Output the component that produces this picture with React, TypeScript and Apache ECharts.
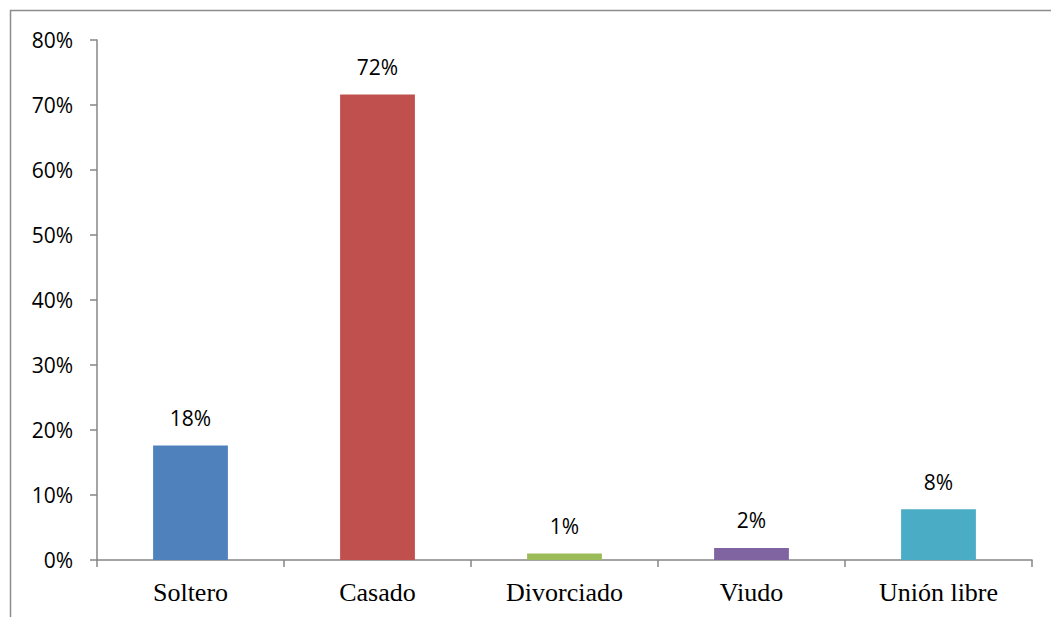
import React, { useEffect, useRef } from "react";
import * as echarts from "echarts";

const categories = ["Soltero", "Casado", "Divorciado", "Viudo", "Unión libre"];
const values = [17.6, 71.6, 1.0, 1.85, 7.8];
const colors = ["#4F81BD", "#C0504D", "#9BBB59", "#8064A2", "#4BACC6"];
const yMax = 80;
const yStep = 10;

export default function App() {
  const ref = useRef<HTMLDivElement>(null);
  useEffect(() => {
    if (!ref.current) return;
    const chart = echarts.init(ref.current, null, { renderer: "svg" });
    chart.setOption({
      animation: false,
      backgroundColor: "#ffffff",
      graphic: [
        {
          type: "rect",
          shape: { x: 10.5, y: 10.5, width: 1100, height: 700 },
          style: { fill: "none", stroke: "#8c8c8c", lineWidth: 1.5 },
          silent: true,
          z: -1,
        },
      ],
      grid: { left: 97, right: 19, top: 40, bottom: 57, containLabel: false },
      xAxis: {
        type: "category",
        data: categories,
        axisLine: { show: true, lineStyle: { color: "#868686", width: 1.5 } },
        axisTick: { show: true, alignWithLabel: false, length: 7, lineStyle: { color: "#868686", width: 1.5 } },
        axisLabel: {
          color: "#000",
          fontFamily: "Liberation Serif",
          fontSize: 26,
          margin: 19,
        },
        splitLine: { show: false },
      },
      yAxis: {
        type: "value",
        min: 0,
        max: yMax,
        interval: yStep,
        axisLine: { show: true, lineStyle: { color: "#868686", width: 1.5 } },
        axisTick: { show: true, length: 7, lineStyle: { color: "#868686", width: 1.5 } },
        axisLabel: {
          color: "#000",
          fontFamily: "Open Sans",
          fontSize: 21,
          margin: 24,
          formatter: (v: number) => `${v}%`,
        },
        splitLine: { show: false },
      },
      series: [
        {
          type: "bar",
          data: values.map((v, i) => ({ value: v, itemStyle: { color: colors[i] } })),
          barWidth: "40%",
          label: {
            show: true,
            position: "top",
            distance: 17,
            color: "#000",
            fontFamily: "Open Sans",
            fontSize: 21,
            formatter: (p: any) => `${Math.round(p.value)}%`,
          },
        },
      ],
    });
    return () => chart.dispose();
  }, []);
  return (
    <div
      ref={ref}
      style={{ position: "fixed", left: 0, top: 0, width: 1051, height: 617 }}
    />
  );
}
